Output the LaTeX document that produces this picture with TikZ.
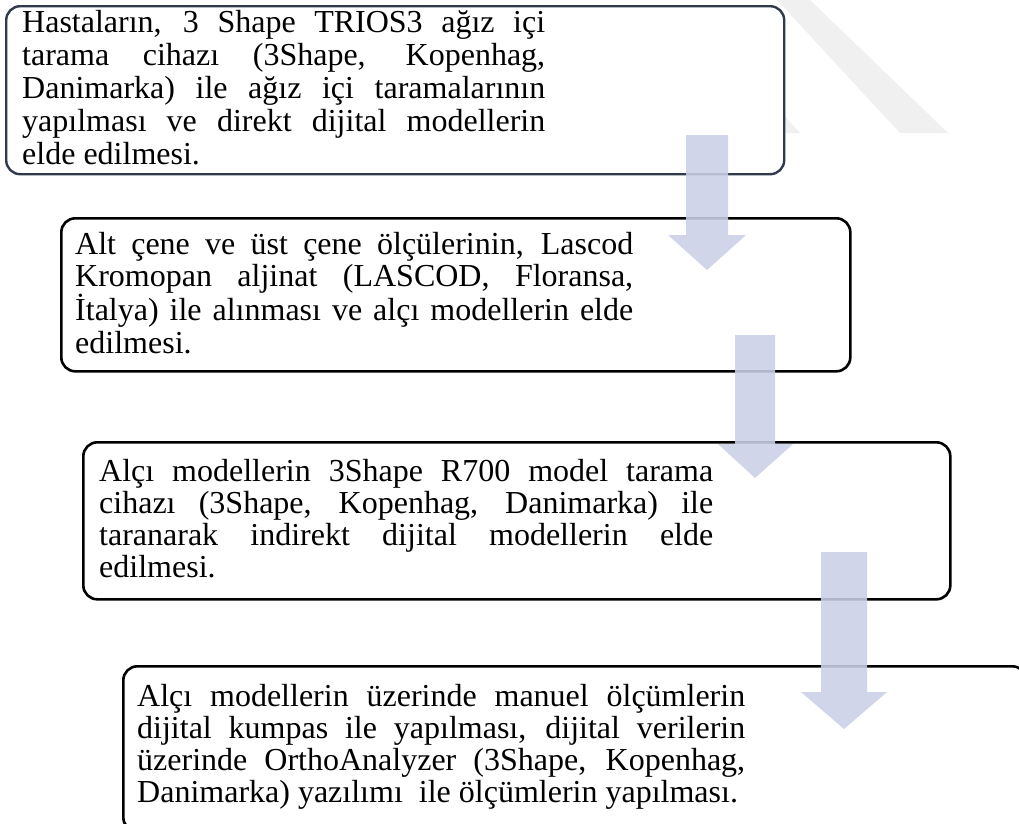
\documentclass[tikz,border=0pt]{standalone}
\usepackage{fontspec}
\setmainfont{Liberation Serif}
\definecolor{boxone}{HTML}{2F3B4C}
\definecolor{arrowc}{RGB}{202,208,230}
\definecolor{wm}{HTML}{F0F0F0}
\begin{document}
\begin{tikzpicture}[x=1pt,y=-1pt,
  boxa/.style={draw=boxone, line width=2.4pt, rounded corners=14pt, fill=white, inner sep=0pt, anchor=north west},
  boxb/.style={boxa, draw=black, line width=2.6pt},
  txt/.style={inner sep=0pt, anchor=base west},
  flow/.style={fill=arrowc, fill opacity=0.88, draw=none},
  wmark/.style={fill=wm, draw=none}]
\clip (0,0) rectangle (1019,823);
\fill[white] (0,0) rectangle (1019,823);
% watermark
\path[wmark] (777,0) -- (810,0) -- (948,133) -- (900,133) -- cycle;
\path[wmark] (770,100) -- (800,133) -- (770,133) -- cycle;
% boxes
\node[boxa, minimum width=778pt, minimum height=168pt] (b1) at (5,5) {};
\node[boxb, minimum width=789pt, minimum height=153pt] (b2) at (60,217) {};
\node[boxb, minimum width=867pt, minimum height=157pt] (b3) at (82,441) {};
\node[boxb, minimum width=903pt, minimum height=165pt] (b4) at (122,665) {};
% texts
\node[txt] (t1) at (22,32) {\parbox[t]{523pt}{\fontsize{32}{33}\selectfont
\makebox[\linewidth][s]{Hastaların, 3 Shape TRIOS3 ağız içi}\\
\makebox[\linewidth][s]{tarama cihazı (3Shape, Kopenhag,}\\
\makebox[\linewidth][s]{Danimarka) ile ağız içi taramalarının}\\
\makebox[\linewidth][s]{yapılması ve direkt dijital modellerin}\\
elde edilmesi.}};
\node[txt] (t2) at (75,254) {\parbox[t]{558pt}{\fontsize{32}{32.7}\selectfont
\makebox[\linewidth][s]{Alt çene ve üst çene ölçülerinin, Lascod}\\
\makebox[\linewidth][s]{Kromopan aljinat (LASCOD, Floransa,}\\
\makebox[\linewidth][s]{İtalya) ile alınması ve alçı modellerin elde}\\
edilmesi.}};
\node[txt] (t3) at (99,481) {\parbox[t]{614pt}{\fontsize{32}{32.2}\selectfont
\makebox[\linewidth][s]{Alçı modellerin 3Shape R700 model tarama}\\
\makebox[\linewidth][s]{cihazı (3Shape, Kopenhag, Danimarka) ile}\\
\makebox[\linewidth][s]{taranarak indirekt dijital modellerin elde}\\
edilmesi.}};
\node[txt] (t4) at (137,706) {\parbox[t]{608pt}{\fontsize{32}{32}\selectfont
\makebox[\linewidth][s]{Alçı modellerin üzerinde manuel ölçümlerin}\\
\makebox[\linewidth][s]{dijital kumpas ile yapılması, dijital verilerin}\\
\makebox[\linewidth][s]{üzerinde OrthoAnalyzer (3Shape, Kopenhag,}\\
Danimarka) yazılımı~ ile ölçümlerin yapılması.}};
% block arrows
\path[flow] (686,135) -- (728,135) -- (728,235) -- (746,235) -- (707,270) -- (668,235) -- (686,235) -- cycle;
\path[flow] (735,335) -- (775,335) -- (775,444) -- (793,444) -- (755,478) -- (718,444) -- (735,444) -- cycle;
\path[flow] (821,552) -- (867,552) -- (867,692) -- (887,692) -- (844,729) -- (801,692) -- (821,692) -- cycle;
\end{tikzpicture}
\end{document}
